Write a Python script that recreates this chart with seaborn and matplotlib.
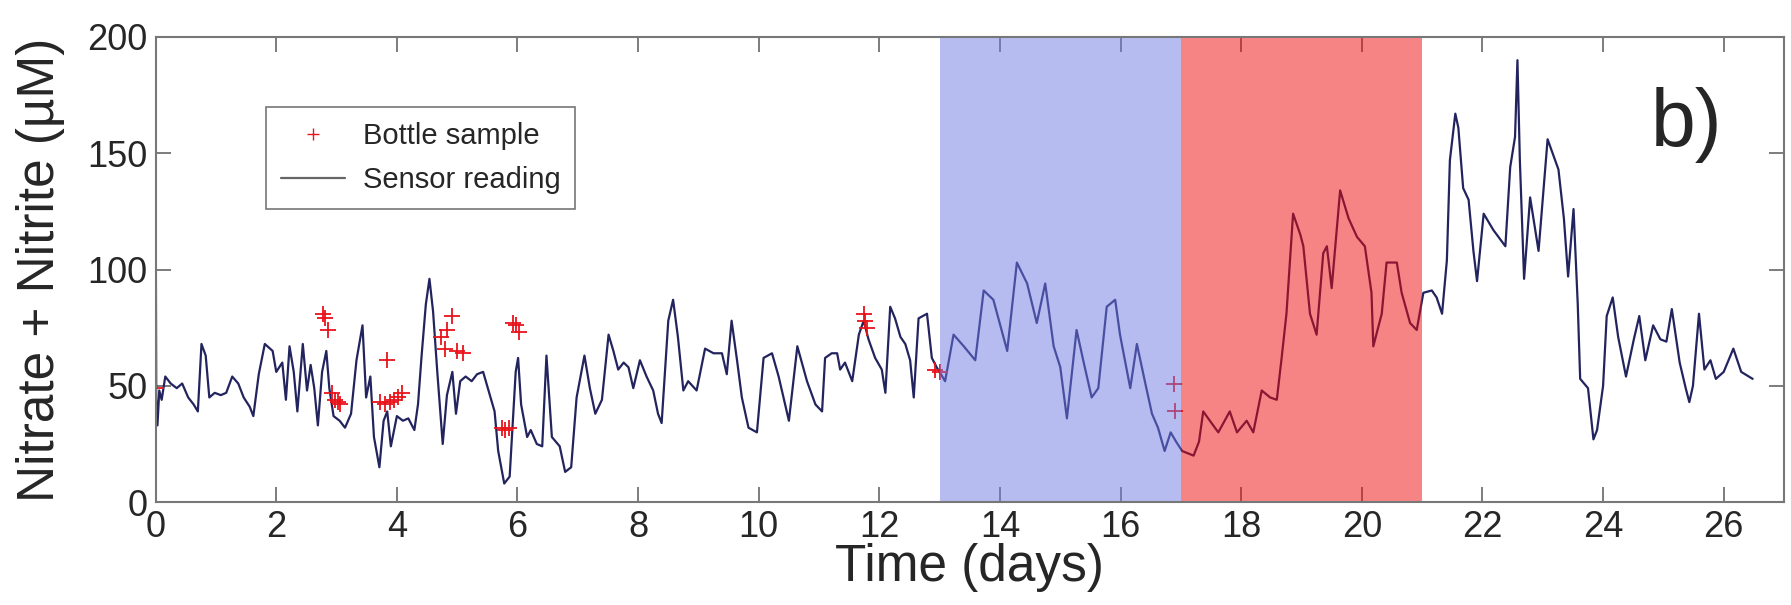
import numpy as np
import pandas as pd
import matplotlib
matplotlib.use('Agg')
import matplotlib.pyplot as plt
from matplotlib.lines import Line2D
import seaborn as sns

# sensor trace (time in days, nitrate + nitrite in uM)
sensor_t = [0.00, 0.01, 0.03, 0.06, 0.10, 0.16, 0.25, 0.35, 0.44, 0.54, 0.63, 0.70, 0.76, 0.83, 0.89, 0.98,
            1.08, 1.17, 1.27, 1.37, 1.46, 1.56, 1.62, 1.71, 1.81, 1.94, 2.00, 2.10, 2.16, 2.22, 2.29, 2.35,
            2.44, 2.51, 2.57, 2.63, 2.69, 2.76, 2.83, 2.88, 2.95, 3.05, 3.14, 3.24, 3.33, 3.43, 3.49, 3.56,
            3.62, 3.71, 3.78, 3.84, 3.90, 4.00, 4.10, 4.19, 4.29, 4.35, 4.41, 4.48, 4.54, 4.60, 4.67, 4.76,
            4.83, 4.92, 4.98, 5.05, 5.14, 5.24, 5.33, 5.43, 5.52, 5.62, 5.68, 5.78, 5.87, 5.97, 6.01, 6.06,
            6.16, 6.22, 6.32, 6.41, 6.48, 6.57, 6.70, 6.79, 6.89, 6.98, 7.11, 7.20, 7.29, 7.40, 7.51, 7.59,
            7.67, 7.76, 7.84, 7.92, 8.03, 8.14, 8.25, 8.33, 8.39, 8.50, 8.58, 8.66, 8.75, 8.83, 8.97, 9.11,
            9.25, 9.39, 9.47, 9.55, 9.64, 9.72, 9.83, 9.97, 10.08, 10.22, 10.33, 10.50, 10.64, 10.80, 10.94,
            11.05, 11.10, 11.21, 11.30, 11.35, 11.43, 11.55, 11.66, 11.74, 11.82, 11.93, 12.04, 12.10, 12.18,
            12.26, 12.35, 12.43, 12.51, 12.57, 12.65, 12.79, 12.87, 12.95, 13.09, 13.23, 13.40, 13.59, 13.73,
            13.89, 14.12, 14.28, 14.45, 14.61, 14.75, 14.89, 15.00, 15.11, 15.27, 15.38, 15.52, 15.63, 15.77,
            15.91, 15.99, 16.16, 16.27, 16.41, 16.52, 16.62, 16.73, 16.83, 16.92, 17.02, 17.21, 17.30, 17.37,
            17.48, 17.62, 17.81, 17.93, 18.09, 18.20, 18.34, 18.48, 18.59, 18.67, 18.75, 18.86, 18.98, 19.03,
            19.14, 19.25, 19.36, 19.42, 19.50, 19.64, 19.78, 19.92, 20.05, 20.16, 20.19, 20.33, 20.41, 20.58,
            20.66, 20.80, 20.91, 21.02, 21.16, 21.24, 21.33, 21.41, 21.46, 21.55, 21.60, 21.68, 21.77, 21.85,
            21.91, 22.02, 22.18, 22.38, 22.46, 22.54, 22.58, 22.62, 22.69, 22.79, 22.93, 23.08, 23.26, 23.35,
            23.42, 23.51, 23.58, 23.62, 23.75, 23.84, 23.90, 24.00, 24.06, 24.16, 24.25, 24.38, 24.51, 24.60,
            24.70, 24.83, 24.95, 25.05, 25.14, 25.27, 25.37, 25.43, 25.49, 25.59, 25.68, 25.78, 25.87, 26.00,
            26.16, 26.29, 26.48]
sensor_v = [138, 45, 33, 48, 44, 54, 51, 49, 51, 45, 42, 39, 68, 63, 45, 47,
            46, 47, 54, 51, 45, 41, 37, 55, 68, 65, 56, 60, 44, 67, 56, 39,
            68, 48, 59, 49, 33, 56, 65, 49, 37, 35, 32, 38, 61, 76, 45, 54,
            28, 15, 35, 39, 24, 37, 35, 36, 31, 42, 63, 85, 96, 82, 56, 25,
            46, 56, 38, 52, 54, 52, 55, 56, 48, 39, 22, 8, 11, 56, 62, 42,
            28, 31, 25, 24, 63, 28, 24, 13, 15, 45, 63, 49, 38, 44, 72, 65,
            57, 60, 58, 49, 61, 54, 48, 38, 34, 78, 87, 71, 48, 52, 48, 66,
            64, 64, 55, 78, 61, 45, 32, 30, 62, 64, 54, 35, 67, 52, 42,
            39, 62, 64, 64, 57, 60, 52, 72, 78, 70, 62, 57, 47, 84,
            79, 71, 68, 61, 45, 79, 81, 62, 58, 52, 72, 67, 61, 91,
            87, 65, 103, 94, 77, 94, 67, 58, 36, 74, 61, 45, 49, 84,
            87, 72, 49, 68, 51, 38, 32, 22, 30, 26, 22, 20, 26, 39,
            35, 30, 39, 30, 35, 30, 48, 45, 44, 62, 81, 124, 115, 110,
            81, 72, 107, 110, 92, 134, 122, 114, 110, 90, 67, 81, 103, 103,
            90, 77, 74, 90, 91, 88, 81, 104, 147, 167, 161, 135, 130, 108,
            95, 124, 117, 110, 144, 157, 190, 147, 96, 131, 108, 156, 143, 122,
            97, 126, 85, 53, 49, 27, 31, 50, 80, 88, 71, 54, 70, 80,
            61, 76, 70, 69, 83, 60, 49, 43, 50, 81, 57, 61, 53, 56,
            66, 56, 53]

# bottle samples
bottle_t = [0.00, 2.78, 2.81, 2.85, 2.92, 2.97, 3.02, 3.06, 3.72, 3.80, 3.83, 3.88, 3.95, 4.02, 4.08,
            4.73, 4.79, 4.83, 4.92, 5.00, 5.10, 5.75, 5.80, 5.86, 5.93, 5.98, 6.02,
            11.74, 11.77, 11.80, 12.92, 13.00, 16.88, 16.90]
bottle_v = [49, 81, 79, 74, 47, 44, 43, 42, 43, 42, 61, 43, 44, 45, 47,
            71, 66, 74, 80, 65, 64, 32, 31, 32, 77, 76, 73,
            81, 78, 75, 57, 56, 51, 39]

# shaded periods (days)
blue_period = (13, 17)
red_period = (17, 21)

sns.set_style('ticks')
plt.rcParams['font.family'] = ['Liberation Sans', 'DejaVu Sans']

df_sensor = pd.DataFrame({'t': sensor_t, 'v': sensor_v})
df_bottle = pd.DataFrame({'t': bottle_t, 'v': bottle_v})

fig = plt.figure(figsize=(17.91, 6.05), dpi=100)
ax = fig.add_axes([0.0869, 0.170, 0.9092, 0.769])

line_col = '#23245e'
sns.lineplot(data=df_sensor, x='t', y='v', ax=ax, color=line_col, lw=1.6,
             estimator=None, sort=False, zorder=2, legend=False)
sns.scatterplot(data=df_bottle, x='t', y='v', ax=ax, marker='+', s=140,
                color='#e8141a', linewidth=1.3, zorder=2, legend=False)

# shaded periods drawn over the data, as in the original
ax.axvspan(*blue_period, color='#6f7be3', alpha=0.5, lw=0, zorder=3)
ax.axvspan(*red_period, color='#ef0a0a', alpha=0.5, lw=0, zorder=3)

ax.set_xlim(0, 27)
ax.set_ylim(0, 200)
ax.set_xticks(np.arange(0, 27, 2))
ax.set_yticks([0, 50, 100, 150, 200])

ax.set_xlabel('Time (days)', fontsize=37, labelpad=-2)
ax.set_ylabel('Nitrate + Nitrite (\u00b5M)', fontsize=37, labelpad=16)

ax.tick_params(direction='in', length=11, width=1.2, color='#666666',
               top=True, right=True, labelsize=26, pad=6)
for sp in ax.spines.values():
    sp.set_color('#777777')
    sp.set_linewidth(1.5)
    sp.set_zorder(5)

ax.text(24.8, 153, 'b)', fontsize=58, va='baseline', ha='left')

handles = [Line2D([], [], marker='+', ls='none', color='#e8141a', markersize=9, mew=1),
           Line2D([], [], color='#666666', lw=1.6)]
leg = ax.legend(handles, ['Bottle sample', 'Sensor reading'], loc='upper left',
                bbox_to_anchor=(0.059, 0.88), fontsize=21, fancybox=False, framealpha=1,
                edgecolor='#777777', handlelength=2.2, borderpad=0.5, labelspacing=0.55,
                handletextpad=0.6)
leg.get_frame().set_linewidth(1.2)

plt.savefig('out.png', dpi=100)
